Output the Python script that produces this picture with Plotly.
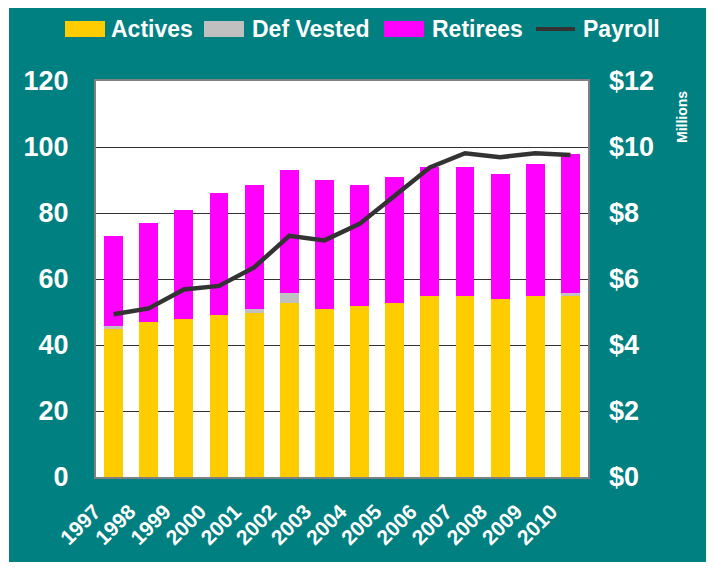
import plotly.graph_objects as go

# Données
years = ['1997', '1998', '1999', '2000', '2001', '2002', '2003',
         '2004', '2005', '2006', '2007', '2008', '2009', '2010']
actives = [45, 47, 48, 49, 49.6, 52.7, 50.9, 51.8, 52.7, 54.9, 54.9, 53.9, 54.9, 54.9]
def_vested = [0.9, 0, 0, 0, 1.3, 3.1, 0, 0, 0, 0, 0, 0, 0, 0.9]
retirees = [27.1, 30, 32.9, 37.1, 37.6, 37.2, 39.1, 36.7, 38.2, 39, 39, 37.9, 39.9, 42.1]
payroll = [4.93, 5.11, 5.68, 5.79, 6.35, 7.31, 7.17, 7.67, 8.52, 9.38, 9.81, 9.69, 9.81, 9.76]

left_ticks = [0, 20, 40, 60, 80, 100, 120]
right_ticks = [0, 2, 4, 6, 8, 10, 12]
right_labels = ['$0', '$2', '$4', '$6', '$8', '$10', '$12']

TEAL = '#008080'
FONT = 'Arial, Liberation Sans, sans-serif'

# la page ajoute une marge de 8 px autour de la figure
OFF = 8
W, H = 714 - OFF, 568 - OFF
ML, MR, MT, MB = 96 - OFF, 126, 81 - OFF, 91
PW, PH = W - ML - MR, H - MT - MB


def px(x):
    """pixel horizontal (page) -> coordonnée paper"""
    return (x - OFF - ML) / PW


def py(y):
    """pixel vertical (page) -> coordonnée paper"""
    return (H - MB - (y - OFF)) / PH


fig = go.Figure()

fig.add_trace(go.Bar(x=years, y=actives, name='Actives', marker=dict(color='#FFCC00', line=dict(width=0)),
                     showlegend=False))
fig.add_trace(go.Bar(x=years, y=def_vested, name='Def Vested', marker=dict(color='#C0C0C0', line=dict(width=0)),
                     showlegend=False))
fig.add_trace(go.Bar(x=years, y=retirees, name='Retirees', marker=dict(color='#FF00FF', line=dict(width=0)),
                     showlegend=False))
fig.add_trace(go.Scatter(x=years, y=payroll, name='Payroll', mode='lines',
                         line=dict(color='#333333', width=4.5), yaxis='y2', showlegend=False))

shapes = [
    # cadre teal
    dict(type='rect', xref='paper', yref='paper', x0=px(9), x1=px(714), y0=py(562), y1=py(4),
         fillcolor=TEAL, line=dict(width=0), layer='below'),
    # zone de tracé blanche
    dict(type='rect', xref='paper', yref='paper', x0=0, x1=1, y0=0, y1=1,
         fillcolor='white', line=dict(width=0), layer='below'),
]
annotations = []

# légende personnalisée
legend_items = [
    ('Actives', '#FFCC00', 65, 109, 'rect'),
    ('Def Vested', '#C0C0C0', 204, 250, 'rect'),
    ('Retirees', '#FF00FF', 384, 430, 'rect'),
    ('Payroll', '#333333', 534, 581, 'line'),
]
for label, color, sx, tx, kind in legend_items:
    if kind == 'rect':
        shapes.append(dict(type='rect', xref='paper', yref='paper', x0=px(sx), x1=px(sx + 40),
                           y0=py(37), y1=py(21), fillcolor=color, line=dict(width=0)))
    else:
        shapes.append(dict(type='line', xref='paper', yref='paper', x0=px(sx + 2), x1=px(sx + 41),
                           y0=py(29), y1=py(29), line=dict(color=color, width=4)))
    annotations.append(dict(text=label, xref='paper', yref='paper', x=px(tx), y=py(29),
                            xanchor='left', yanchor='middle', showarrow=False,
                            font=dict(size=23, color='white', family=FONT, weight='bold')))

annotations.append(dict(text='Millions', xref='paper', yref='paper', x=px(682), y=py(117),
                        xanchor='center', yanchor='middle', textangle=-90, showarrow=False,
                        font=dict(size=14, color='white', family=FONT, weight='bold')))

fig.update_layout(
    barmode='stack',
    bargap=0.46,
    width=W,
    height=H,
    margin=dict(l=ML, r=MR, t=MT, b=MB, pad=0),
    paper_bgcolor='white',
    plot_bgcolor='rgba(0,0,0,0)',
    font=dict(family=FONT, color='white'),
    showlegend=False,
    shapes=shapes,
    annotations=annotations,
    xaxis=dict(
        type='category',
        tickangle=-45,
        tickfont=dict(size=21, color='white', family=FONT, weight='bold'),
        showline=True, mirror=True, linecolor='#808080', linewidth=2,
        showgrid=False, ticks='', ticklabelshift=-19, ticklabelstandoff=12
    ),
    yaxis=dict(
        range=[0, 120],
        tickvals=left_ticks,
        tickfont=dict(size=27, color='white', family=FONT, weight='bold'),
        showline=True, mirror=True, linecolor='#808080', linewidth=2,
        showgrid=True, gridcolor='#333333', gridwidth=1,
        zeroline=False, ticks='', ticklabelstandoff=20
    ),
    yaxis2=dict(
        range=[0, 12],
        overlaying='y',
        side='right',
        tickvals=right_ticks,
        ticktext=right_labels,
        tickfont=dict(size=27, color='white', family=FONT, weight='bold'),
        showgrid=False, zeroline=False, showline=False,
        ticks='', ticklabelstandoff=20
    ),
)

fig.write_html("out.html")
